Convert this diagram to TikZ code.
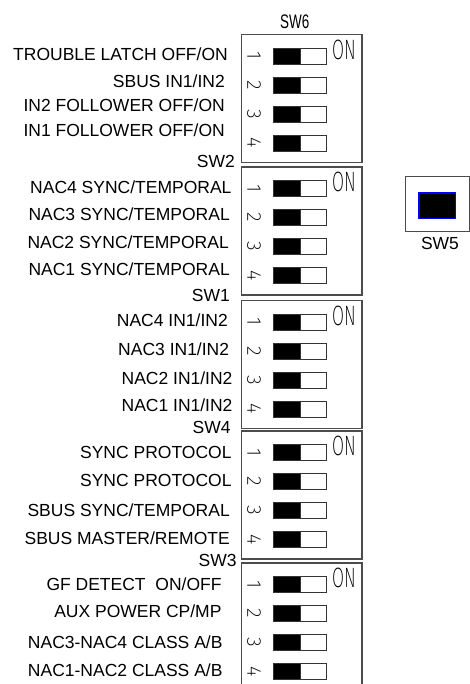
\documentclass[tikz,border=0pt]{standalone}
\usepackage{fontspec}
\setmainfont{Liberation Sans}
\newfontfamily\cadfont{Fira Sans ExtraLight}

\tikzset{
  bank/.style={draw=black!70, line width=1.1pt},
  lever/.style={fill=black, draw=black!80, line width=0.8pt},
  slot/.style={fill=white, draw=black!80, line width=0.8pt},
  lbl/.style={anchor=base east, inner sep=0pt},
  digit/.style={font=\cadfont\fontsize{20}{20}\selectfont, rotate=-90, inner sep=0pt},
  onmark/.style={font=\cadfont\fontsize{28}{28}\selectfont, inner sep=0pt, xscale=0.62}
}

\begin{document}
\begin{tikzpicture}[x=1pt,y=-1pt]

  \useasboundingbox (0,0) rectangle (470,684);
  \fontsize{17.5}{21}\selectfont

  \newcommand\BL{241.7}
  \newcommand\BR{362}
  \newcommand\BH{128}

  % dip switch banks: top edge / number
  \foreach \t/\s in {34.5/6, 167/2, 300.5/1, 431/4, 563/3} {
    \draw[bank] (\BL,\t) rectangle (\BR,\t+\BH);
    \node[onmark] (on\s) at (344,\t+15) {ON};
    \foreach \n in {1,...,4} {
      \pgfmathsetmacro\r{\t+21.5+29*(\n-1)}
      \node[digit] (n\s-\n) at (254,\r) {\n};
      \draw[lever] (273,\r-8) rectangle (300,\r+8);
      \draw[slot] (300,\r-8) rectangle (326.5,\r+8);
    }
  }

  \node[inner sep=0pt, anchor=base] (t6) at (294.8,28.3) {\scalebox{0.77}[1.12]{SW6}};
  \node[lbl] (t2) at (235,168) {SW2};
  \node[lbl] (t1) at (230,301.7) {SW1};
  \node[lbl] (t4) at (230.7,433.3) {SW4};
  \node[lbl] (t3) at (236.7,566) {SW3};

  % SW6
  \node[lbl] (s6a) at (228,61) {TROUBLE LATCH OFF/ON};
  \node[lbl] (s6b) at (225,87.3) {SBUS IN1/IN2};
  \node[lbl] (s6c) at (225,111.7) {IN2 FOLLOWER OFF/ON};
  \node[lbl] (s6d) at (225,136.7) {IN1 FOLLOWER OFF/ON};

  % SW2
  \node[lbl] (s2a) at (231.7,193.3) {NAC4 SYNC/TEMPORAL};
  \node[lbl] (s2b) at (230,221) {NAC3 SYNC/TEMPORAL};
  \node[lbl] (s2c) at (229,248.3) {NAC2 SYNC/TEMPORAL};
  \node[lbl] (s2d) at (230,276) {NAC1 SYNC/TEMPORAL};

  % SW1
  \node[lbl] (s1a) at (228,326.7) {NAC4 IN1/IN2};
  \node[lbl] (s1b) at (229.3,355) {NAC3 IN1/IN2};
  \node[lbl] (s1c) at (232.7,384.3) {NAC2 IN1/IN2};
  \node[lbl] (s1d) at (232.7,411.7) {NAC1 IN1/IN2};

  % SW4
  \node[lbl] (s4a) at (231.7,458.3) {SYNC PROTOCOL};
  \node[lbl] (s4b) at (231.7,486.7) {SYNC PROTOCOL};
  \node[lbl] (s4c) at (230,516.7) {SBUS SYNC/TEMPORAL};
  \node[lbl] (s4d) at (230,544.3) {SBUS MASTER/REMOTE};

  % SW3
  \node[lbl] (s3a) at (221.7,590.7) {GF DETECT\ \ ON/OFF};
  \node[lbl] (s3b) at (221.7,617.3) {AUX POWER CP/MP};
  \node[lbl] (s3c) at (222.7,648.3) {NAC3-NAC4 CLASS A/B};
  \node[lbl] (s3d) at (222.7,676) {NAC1-NAC2 CLASS A/B};

  % SW5
  \node[draw=black!70, line width=1pt, minimum width=64pt, minimum height=55pt, inner sep=0pt] (sw5) at (437.3,204.2) {};
  \node[fill=black, minimum width=36pt, minimum height=25pt, inner sep=0pt] (sw5k) at (437.3,205.8) {};
  \draw[blue, line width=1.3pt] (sw5k.south west) rectangle (sw5k.north east);
  \node[inner sep=0pt, anchor=base] (t5) at (440,250) {SW5};

\end{tikzpicture}
\end{document}
